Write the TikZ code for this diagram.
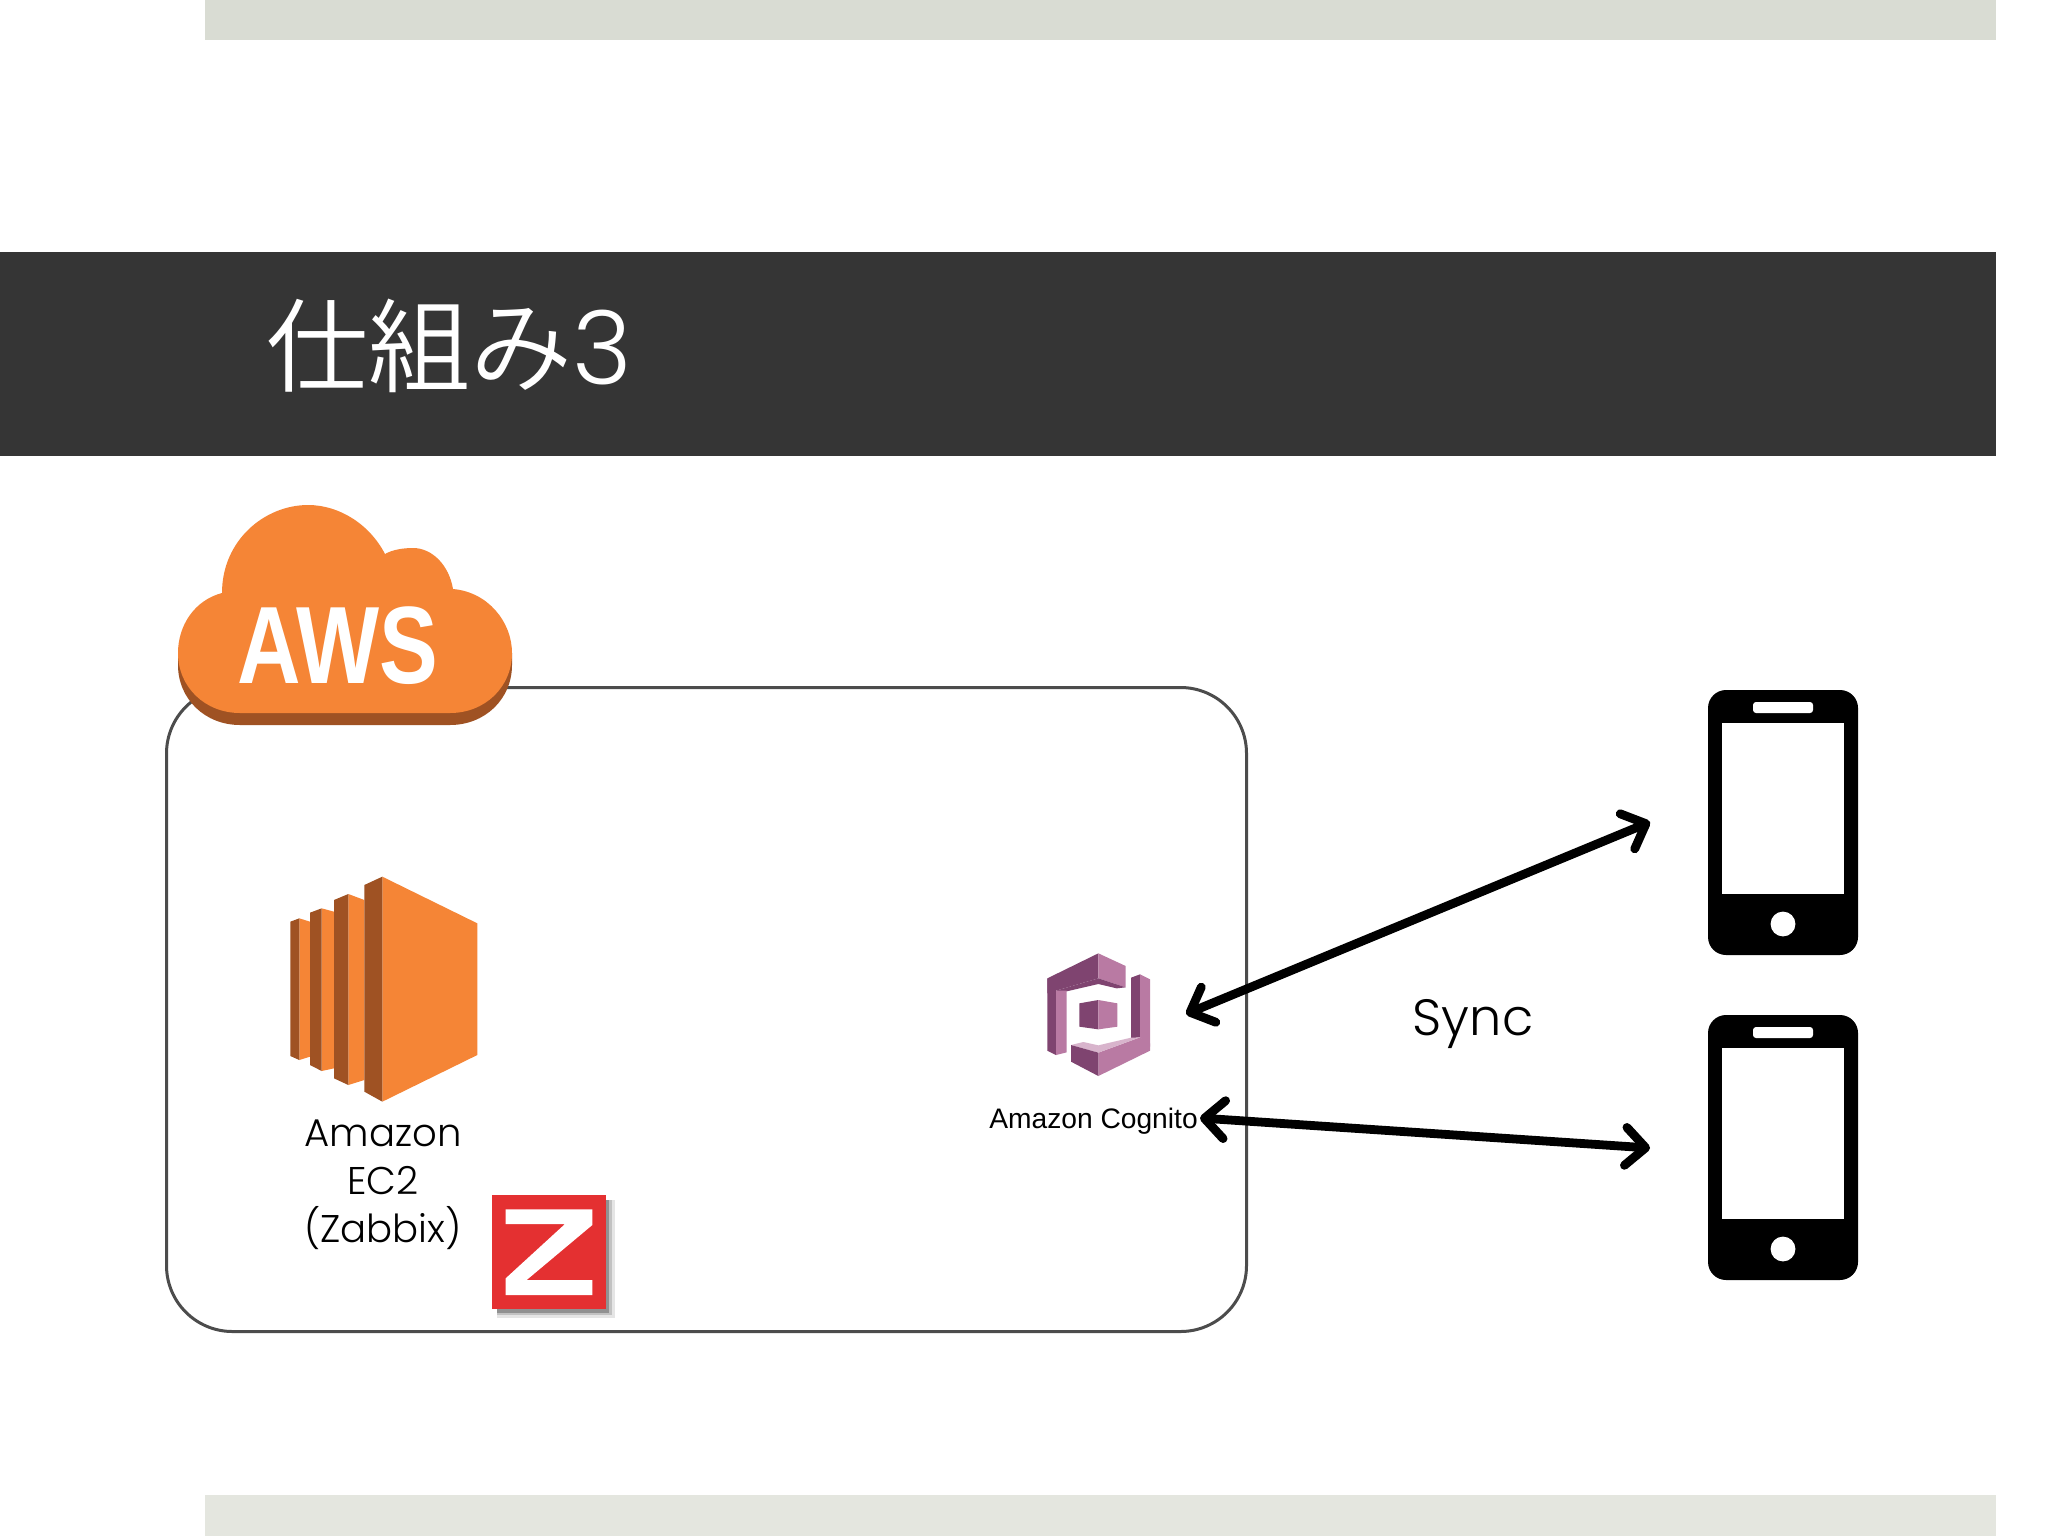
\documentclass[tikz,border=0pt]{standalone}
\usepackage{fontspec}
\usetikzlibrary{arrows.meta}
\setmainfont{Poppins Light}
\newfontfamily\cjkf{Noto Sans CJK JP DemiLight}
\newfontfamily\arialf{Liberation Sans}
\definecolor{awsor}{HTML}{F58536}
\definecolor{awsdk}{HTML}{9F5223}
\definecolor{cogdk}{HTML}{7F4470}
\definecolor{coglt}{HTML}{B97AA3}
\definecolor{coghi}{HTML}{D8B4CC}
\definecolor{zred}{HTML}{E43031}
\definecolor{bartop}{HTML}{D9DCD3}
\definecolor{barbot}{HTML}{E4E6DF}
\definecolor{bartitle}{HTML}{353535}
\tikzset{
 lab/.style={font=\fontsize{19.3}{24}\selectfont,text=black,align=center,inner sep=0pt},
 link/.style={line width=4.4pt,black,{Straight Barb[round,length=10pt,width=19pt,line width=4.4pt]}-{Straight Barb[round,length=10pt,width=19pt,line width=4.4pt]},shorten <=0pt,shorten >=0pt},
 phone/.pic={
  \fill[black,rounded corners=9pt] (0,0) rectangle (150,265);
  \fill[white] (14,33) rectangle (136,204);
  \fill[white,rounded corners=1.5pt] (45,12) rectangle (105,23);
  \fill[white] (75,234) circle (6.2pt);
 }
}
\begin{document}
\begin{tikzpicture}[x=0.5pt,y=-0.5pt]
\useasboundingbox (0,0) rectangle (2048,1536);
\fill[white] (0,0) rectangle (2048,1536);
\fill[bartop] (205,0) rectangle (1996,40);
\fill[bartitle] (0,252) rectangle (1996,456);
\fill[barbot] (205,1495) rectangle (1996,1536);
\node[anchor=base west,inner sep=0pt,text=white,font=\fontsize{51}{60}\selectfont] (title) at (266,384) {{\cjkf 仕組み}3};
% AWS region box
\node[draw=black!70,line width=1.5pt,rounded corners=33pt,minimum width=540pt,minimum height=322pt,anchor=north west,inner sep=0pt] (region) at (165,686) {};
% AWS cloud
\fill[awsdk] (178,653) -- (178,665) .. controls (178,699) and (205,725) .. (240,725) -- (450,725) .. controls (485,725) and (512,699) .. (512,665) -- (512,653) -- cycle;
\fill[awsor] (222,593) .. controls (222,540) and (265,505) .. (308,505) .. controls (340,505) and (370,525) .. (385,554) .. controls (392,550) and (402,548) .. (413,548) .. controls (432,548) and (449,565) .. (453,589) .. controls (488,592) and (512,622) .. (512,653) .. controls (512,687) and (485,713) .. (450,713) -- (240,713) .. controls (205,713) and (178,687) .. (178,653) .. controls (178,625) and (195,600) .. (222,593) -- cycle;
\node[anchor=base,inner sep=0pt,text=white,font=\arialf\bfseries\fontsize{55}{60}\selectfont] (aws) at (338,683) {\scalebox{0.8}[1]{AWS}};
% EC2 icon
\begin{scope}[shift={(260,850)},scale=0.33333]
\fill[awsor] (118,205) -- (150,215) -- (150,620) -- (118,630) -- cycle;
\fill[awsdk] (91,215) -- (118,205) -- (118,630) -- (91,618) -- cycle;
\fill[awsor] (185,175) -- (222,185) -- (222,655) -- (185,663) -- cycle;
\fill[awsdk] (150,188) -- (185,175) -- (185,663) -- (150,645) -- cycle;
\fill[awsor] (265,132) -- (313,150) -- (313,690) -- (265,705) -- cycle;
\fill[awsdk] (222,150) -- (265,132) -- (265,705) -- (222,685) -- cycle;
\fill[awsor] (367,80) -- (652,220) -- (652,615) -- (367,755) -- cycle;
\fill[awsdk] (313,105) -- (367,80) -- (367,755) -- (313,725) -- cycle;
\end{scope}
\node[lab,anchor=base] (ec2a) at (383,1146) {Amazon};
\node[lab,anchor=base] (ec2b) at (383,1194) {EC2};
\node[lab,anchor=base] (ec2c) at (383,1242) {(Zabbix)};
% Zabbix logo
\begin{scope}[shift={(260,850)},scale=0.33333]
\fill[black,opacity=.1] (712,1050) rectangle (1064,1404);
\fill[black,opacity=.15] (712,1050) rectangle (1056,1396);
\fill[black,opacity=.25] (712,1050) rectangle (1048,1388);
\fill[zred] (697,1035) rectangle (1038,1378);
\fill[white] (737,1078) -- (997,1078) -- (997,1125) -- (800,1290) -- (997,1290) -- (997,1335) -- (737,1335) -- (737,1285) -- (915,1122) -- (737,1122) -- cycle;
\end{scope}
% Cognito icon
\begin{scope}[shift={(970,930)},scale=0.33333]
\fill[cogdk] (232,145) -- (385,70) -- (385,145) -- (258,182) -- (232,190) -- cycle;
\fill[coglt] (385,70) -- (467,108) -- (467,172) -- (385,145) -- cycle;
\fill[cogdk] (258,182) -- (385,145) -- (467,172) -- (440,175) -- (385,162) -- (290,184) -- cycle;
\fill[cogdk] (232,145) -- (258,182) -- (258,375) -- (232,362) -- cycle;
\fill[coglt] (258,182) -- (290,182) -- (290,367) -- (258,375) -- cycle;
\fill[cogdk] (483,143) -- (510,133) -- (510,322) -- (483,325) -- cycle;
\fill[coglt] (510,133) -- (540,148) -- (540,350) -- (510,322) -- cycle;
\fill[coglt] (385,368) -- (510,322) -- (540,340) -- (540,362) -- (385,438) -- cycle;
\fill[coghi] (303,345) -- (340,336) -- (385,346) -- (483,323) -- (510,322) -- (385,368) -- cycle;
\fill[cogdk] (303,345) -- (385,368) -- (385,438) -- (303,395) -- cycle;
\fill[cogdk] (328,220) -- (385,210) -- (385,298) -- (328,290) -- cycle;
\fill[coglt] (385,210) -- (442,220) -- (442,290) -- (385,298) -- cycle;
\end{scope}
\node[anchor=base,inner sep=0pt,font=\arialf\fontsize{14.1}{16}\selectfont] (cogn) at (1093.5,1128) {Amazon Cognito};
% Phones
\pic at (1708,690) {phone};
\pic at (1708,1015) {phone};
% Connectors
\coordinate (cogA) at (1186,1014);
\coordinate (phoneA) at (1650,822);
\coordinate (cogB) at (1200,1118);
\coordinate (phoneB) at (1650,1148);
\draw[link] (cogA) -- (phoneA);
\draw[link] (cogB) -- (phoneB);
\node[anchor=base,inner sep=0pt,font=\fontsize{25.5}{30}\selectfont] (sync) at (1473,1035) {Sync};
\end{tikzpicture}
\end{document}
